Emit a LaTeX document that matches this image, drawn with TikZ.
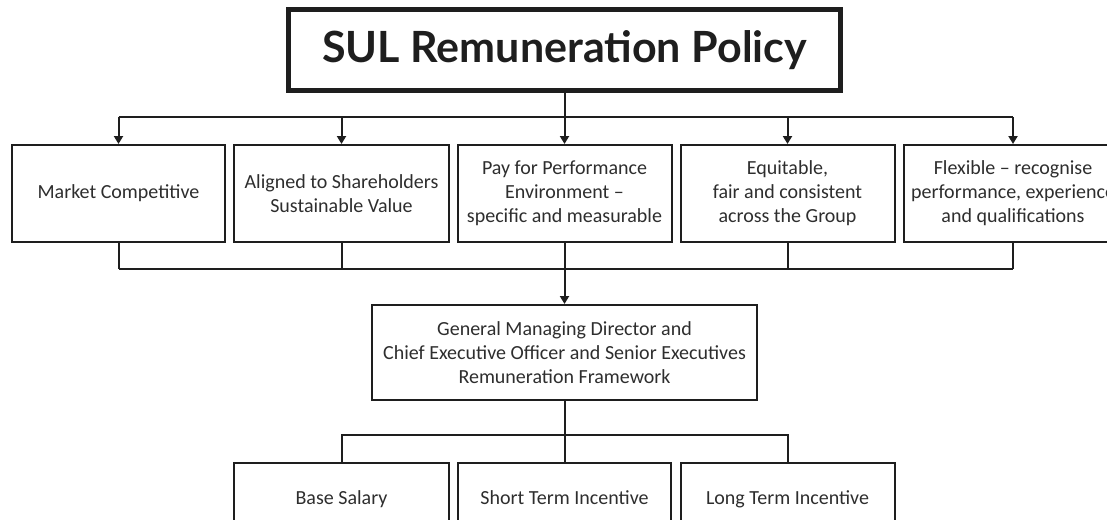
\documentclass[tikz,border=0pt]{standalone}
\usepackage{fontspec}
\setmainfont{Carlito}
\newfontfamily\titlefont{Lato}
\usetikzlibrary{arrows.meta}
\definecolor{ink}{HTML}{1E1E1E}
\definecolor{txt}{HTML}{2E2E2E}
\tikzset{
  box/.style={draw=ink, line width=2pt, fill=white, text=txt, align=center,
    inner sep=0pt, font=\fontsize{20}{24}\selectfont},
  leaf/.style={box, text height=14pt, text depth=5pt},
  titlebox/.style={draw=ink, line width=5pt, fill=white, text=ink,
    inner sep=0pt, font=\titlefont\bfseries\fontsize{43}{50}\selectfont},
  wire/.style={draw=ink, line width=2pt},
  feed/.style={wire, -{Triangle[width=9pt,length=8pt]}}
}
\begin{document}
\begin{tikzpicture}[x=1pt,y=-1pt]
  \useasboundingbox (0,0) rectangle (1107,519);
  \clip (0,0) rectangle (1107,519);
  \fill[white] (0,0) rectangle (1107,519);

  % policy heading
  \node[titlebox, minimum width=552, minimum height=80] (title) at (564.5,50) {SUL Remuneration Policy};

  % guiding principles
  \node[box, minimum width=213, minimum height=97] (p1) at (118.5,193.5) {Market Competitive};
  \node[box, minimum width=215, minimum height=97] (p2) at (341.5,193.5) {Aligned to Shareholders\\Sustainable Value};
  \node[box, minimum width=214, minimum height=97] (p3) at (564.5,193.5) {Pay for Performance\\Environment --\\specific and measurable};
  \node[box, minimum width=214, minimum height=97] (p4) at (787.5,193.5) {Equitable,\\fair and consistent\\across the Group};
  \node[box, minimum width=218, minimum height=97] (p5) at (1013,193.5) {Flexible -- recognise\\performance, experience\\and qualifications};

  % framework
  \node[box, minimum width=385, minimum height=95] (fw) at (564.5,352.5) {General Managing Director and\\Chief Executive Officer and Senior Executives\\Remuneration Framework};

  % components
  \node[leaf, minimum width=215, minimum height=74] (c1) at (341.5,500) {Base Salary};
  \node[leaf, minimum width=213, minimum height=74] (c2) at (564.5,500) {Short Term Incentive};
  \node[leaf, minimum width=214, minimum height=74] (c3) at (787.5,500) {Long Term Incentive};

  % bus lines
  \coordinate (busA) at (564.5,117);
  \coordinate (busB) at (564.5,269);
  \coordinate (busC) at (564.5,435);

  % heading to principles
  \draw[wire] (title.south) -- (busA);
  \draw[wire] (p1.north |- busA) -- (p5.north |- busA);
  \foreach \n in {p1,p2,p3,p4,p5}
    \draw[feed] (\n.north |- busA) -- (\n.north);

  % principles to framework
  \foreach \n in {p1,p2,p3,p4,p5}
    \draw[wire] (\n.south) -- (\n.south |- busB);
  \draw[wire] (p1.south |- busB) -- (p5.south |- busB);
  \draw[feed] (busB) -- (fw.north);

  % framework to components
  \draw[wire] (fw.south) -- (c2.north);
  \draw[wire] (c1.north) -- (c1.north |- busC) -- (c3.north |- busC) -- (c3.north);
\end{tikzpicture}
\end{document}
